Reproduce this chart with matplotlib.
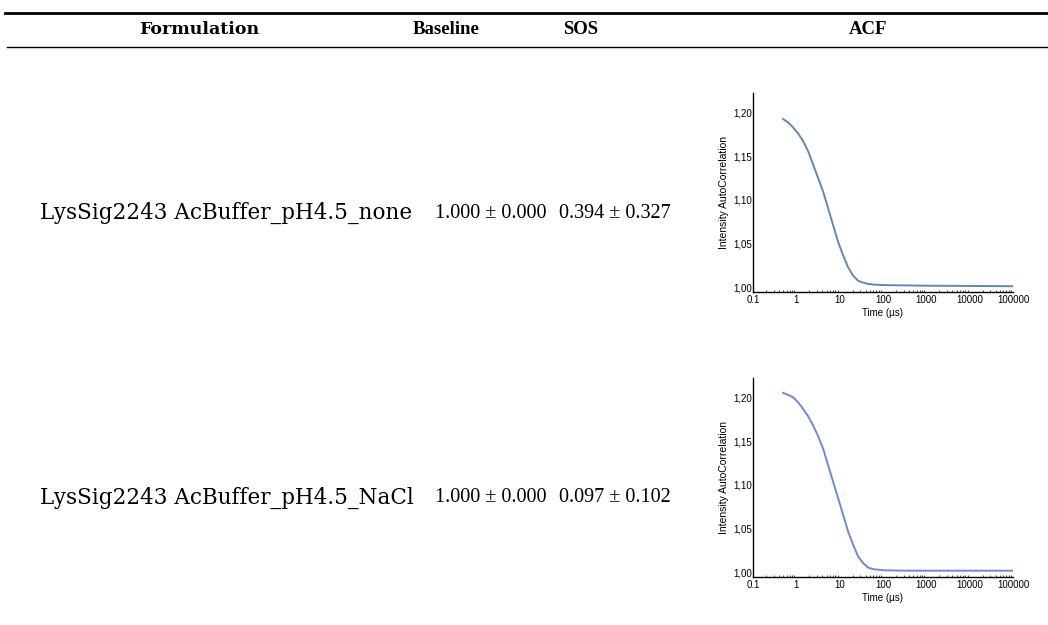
import matplotlib
matplotlib.use("Agg")
import matplotlib.pyplot as plt
from matplotlib.lines import Line2D

# table content
headers = ["Formulation", "Baseline", "SOS", "ACF"]
formulations = ["LysSig2243 AcBuffer_pH4.5_none", "LysSig2243 AcBuffer_pH4.5_NaCl"]
baseline = ["1.000 \u00b1 0.000", "1.000 \u00b1 0.000"]
sos = ["0.394 \u00b1 0.327", "0.097 \u00b1 0.102"]

# autocorrelation curves
time_us = [0.494, 0.644, 0.841, 1.099, 1.43, 1.87, 2.44, 3.18, 4.16, 5.42, 7.08, 9.25,
           12.1, 15.7, 20.6, 26.8, 35, 45.6, 59.6, 101, 245, 1000, 10000, 100000]
acf_none = [1.1923, 1.1885, 1.1827, 1.1758, 1.1673, 1.1557, 1.1403, 1.1250, 1.1095, 1.0904,
            1.0711, 1.0518, 1.0365, 1.0230, 1.0134, 1.0077, 1.0057, 1.0042, 1.0035, 1.0029,
            1.0026, 1.0022, 1.0019, 1.0016]
acf_nacl = [1.2050, 1.2027, 1.2000, 1.1943, 1.1868, 1.1784, 1.1678, 1.1557, 1.1414, 1.1224,
            1.1034, 1.0845, 1.0656, 1.0466, 1.0315, 1.0182, 1.0107, 1.0057, 1.0039, 1.0027,
            1.0023, 1.0022, 1.0022, 1.0022]
curves = [acf_none, acf_nacl]
curve_colors = ["#5f8ab0", "#7088d8"]

xticks = [0.1, 1, 10, 100, 1000, 10000, 100000]
xtick_labels = ["0.1", "1", "10", "100", "1000", "10000", "100000"]
yticks = [1.00, 1.05, 1.10, 1.15, 1.20]
ytick_labels = ["1,00", "1,05", "1,10", "1,15", "1,20"]

W, H = 1048, 625
fig = plt.figure(figsize=(W / 100, H / 100), dpi=100)

serif = ["Liberation Serif", "DejaVu Serif"]
wide_serif = ["DejaVu Serif"]
sans = ["Liberation Sans", "DejaVu Sans"]

def fx(px):
    return px / W

def fy(py):
    return 1 - py / H

# rules
fig.add_artist(Line2D([fx(5), 1], [fy(13), fy(13)], color="black", lw=2.0))
fig.add_artist(Line2D([fx(7), 1], [fy(47), fy(47)], color="black", lw=1.0))

header_x = [199, 446, 581, 868]
header_fonts = [wide_serif, serif, serif, serif]
header_sizes = [12.5, 13.5, 13.5, 13.5]
for hx, h, hf, hs in zip(header_x, headers, header_fonts, header_sizes):
    fig.text(fx(hx), fy(29), h, ha="center", va="center", fontsize=hs,
             fontweight="bold", family=hf)

row_y = [213, 498]
ax_tops = [93, 378]
for i in range(2):
    fig.text(fx(40), fy(row_y[i]), formulations[i], ha="left", va="center",
             fontsize=15.5, family=wide_serif)
    fig.text(fx(491), fy(row_y[i]), baseline[i], ha="center", va="center",
             fontsize=14.5, family=serif)
    fig.text(fx(615), fy(row_y[i]), sos[i], ha="center", va="center",
             fontsize=14.5, family=serif)

    top = ax_tops[i]
    bottom = top + 199
    ax = fig.add_axes([fx(753), fy(bottom), fx(1013) - fx(753), (bottom - top) / H])
    ax.plot(time_us, curves[i], color=curve_colors[i], lw=1.4)
    ax.set_xscale("log")
    ax.set_xlim(0.1, 100000)
    ax.set_ylim(0.995, 1.222)
    ax.set_xticks(xticks)
    ax.set_xticklabels(xtick_labels, family=sans, fontsize=7)
    ax.set_yticks(yticks)
    ax.set_yticklabels(ytick_labels, family=sans, fontsize=7)
    ax.tick_params(axis="y", length=0, pad=1)
    ax.tick_params(axis="x", which="major", length=0, pad=2)
    ax.tick_params(axis="x", which="minor", direction="in", length=1.5, width=0.5)
    for s in ["top", "right"]:
        ax.spines[s].set_visible(False)
    for s in ["left", "bottom"]:
        ax.spines[s].set_linewidth(1.0)
    ax.set_ylabel("Intensity AutoCorrelation", family=sans, fontsize=7.5, labelpad=3)
    ax.set_xlabel("Time (\u00b5s)", family=sans, fontsize=7, labelpad=2)

fig.savefig("out.png", dpi=100)
